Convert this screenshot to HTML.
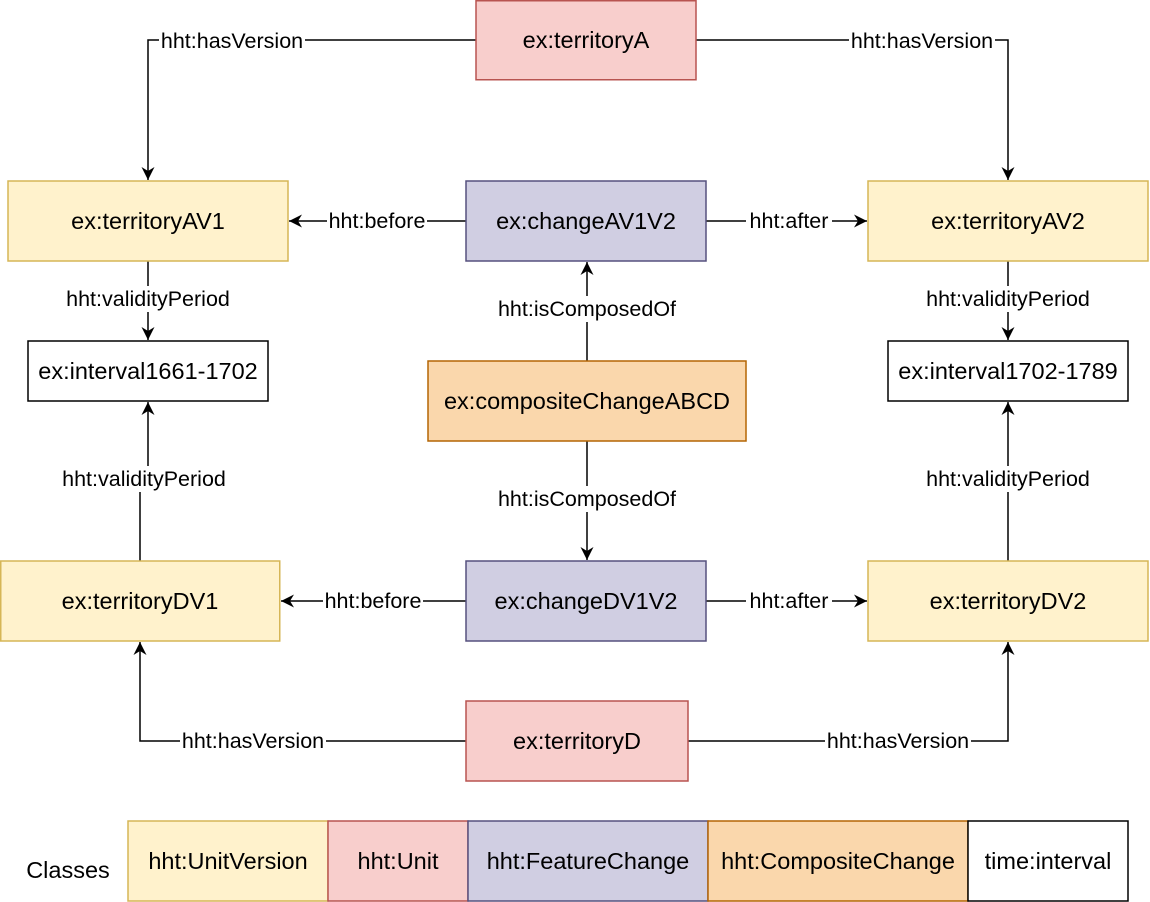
<!DOCTYPE html>
<html><head><meta charset="utf-8"><style>
html,body{margin:0;padding:0;background:#fff;}
svg{display:block;}
text{font-family:"Liberation Sans",Arial,sans-serif;}
</style></head><body>
<svg width="1150" height="902" viewBox="0 0 1150 902" xmlns="http://www.w3.org/2000/svg">
<defs>
<marker id="a" markerWidth="14" markerHeight="14" refX="13" refY="6.5" orient="auto" markerUnits="userSpaceOnUse">
<path d="M0,0 L13,6.5 L0,13 L4,6.5 z" fill="#000"/>
</marker>
</defs>
<g fill="none" stroke="#000" stroke-width="1.5" marker-end="url(#a)">
<path d="M476,40 H148 V180"/>
<path d="M696,40 H1008 V180"/>
<path d="M466,221 H289"/>
<path d="M706,221 H867"/>
<path d="M148,261 V340"/>
<path d="M1008,261 V340"/>
<path d="M587,361 V262"/>
<path d="M587,441 V560"/>
<path d="M140,561 V480 H148 V402" />
<path d="M1008,561 V402"/>
<path d="M466,601 H281"/>
<path d="M706,601 H867"/>
<path d="M466,741 H140 V642"/>
<path d="M688,741 H1008 V642"/>
</g>
<g stroke-width="1.5">
<rect x="476" y="0.75" width="220" height="79" fill="#f8cecc" stroke="#b85450"/>
<rect x="8" y="181" width="280" height="80" fill="#fff2cc" stroke="#d6b656"/>
<rect x="466" y="181" width="240" height="80" fill="#d0cee2" stroke="#56517e"/>
<rect x="868" y="181" width="280" height="80" fill="#fff2cc" stroke="#d6b656"/>
<rect x="28" y="341" width="240" height="60" fill="#fff" stroke="#000"/>
<rect x="428" y="361" width="318" height="80" fill="#fad7ac" stroke="#b46504"/>
<rect x="888" y="341" width="240" height="60" fill="#fff" stroke="#000"/>
<rect x="0.75" y="561" width="279" height="80" fill="#fff2cc" stroke="#d6b656"/>
<rect x="466" y="561" width="240" height="80" fill="#d0cee2" stroke="#56517e"/>
<rect x="868" y="561" width="280" height="80" fill="#fff2cc" stroke="#d6b656"/>
<rect x="466" y="701" width="222" height="80" fill="#f8cecc" stroke="#b85450"/>
<rect x="128" y="821" width="200" height="80" fill="#fff2cc" stroke="#d6b656"/>
<rect x="328" y="821" width="140" height="80" fill="#f8cecc" stroke="#b85450"/>
<rect x="468" y="821" width="240" height="80" fill="#d0cee2" stroke="#56517e"/>
<rect x="708" y="821" width="260" height="80" fill="#fad7ac" stroke="#b46504"/>
<rect x="968" y="821" width="160" height="80" fill="#fff" stroke="#000"/>
</g>
<g font-size="23.5" text-anchor="middle" fill="#000">
<text x="586" y="48">ex:territoryA</text>
<text x="148" y="229">ex:territoryAV1</text>
<text x="586" y="229">ex:changeAV1V2</text>
<text x="1008" y="229">ex:territoryAV2</text>
<text x="148" y="379">ex:interval1661-1702</text>
<text x="587" y="409">ex:compositeChangeABCD</text>
<text x="1008" y="379">ex:interval1702-1789</text>
<text x="140" y="609">ex:territoryDV1</text>
<text x="586" y="609">ex:changeDV1V2</text>
<text x="1008" y="609">ex:territoryDV2</text>
<text x="577" y="749">ex:territoryD</text>
<text x="228" y="869">hht:UnitVersion</text>
<text x="398" y="869">hht:Unit</text>
<text x="588" y="869">hht:FeatureChange</text>
<text x="838" y="869">hht:CompositeChange</text>
<text x="1048" y="869">time:interval</text>
<text x="68" y="878">Classes</text>
</g>
<g font-size="21.5" text-anchor="middle">
<g fill="#fff">
<rect x="159" y="28" width="146" height="26"/>
<rect x="849" y="28" width="146" height="26"/>
<rect x="327" y="208" width="100" height="26"/>
<rect x="746" y="208" width="86" height="26"/>
<rect x="63" y="286" width="170" height="26"/>
<rect x="923" y="286" width="170" height="26"/>
<rect x="497" y="296" width="180" height="26"/>
<rect x="497" y="486" width="180" height="26"/>
<rect x="59" y="466" width="170" height="26"/>
<rect x="923" y="466" width="170" height="26"/>
<rect x="323" y="588" width="100" height="26"/>
<rect x="746" y="588" width="86" height="26"/>
<rect x="180" y="728" width="146" height="26"/>
<rect x="825" y="728" width="146" height="26"/>
</g>
<g fill="#000">
<text x="232" y="48">hht:hasVersion</text>
<text x="922" y="48">hht:hasVersion</text>
<text x="377" y="228">hht:before</text>
<text x="789" y="228">hht:after</text>
<text x="148" y="306">hht:validityPeriod</text>
<text x="1008" y="306">hht:validityPeriod</text>
<text x="587" y="316">hht:isComposedOf</text>
<text x="587" y="506">hht:isComposedOf</text>
<text x="144" y="486">hht:validityPeriod</text>
<text x="1008" y="486">hht:validityPeriod</text>
<text x="373" y="608">hht:before</text>
<text x="789" y="608">hht:after</text>
<text x="253" y="748">hht:hasVersion</text>
<text x="898" y="748">hht:hasVersion</text>
</g>
</g>
</svg>
</body></html>
